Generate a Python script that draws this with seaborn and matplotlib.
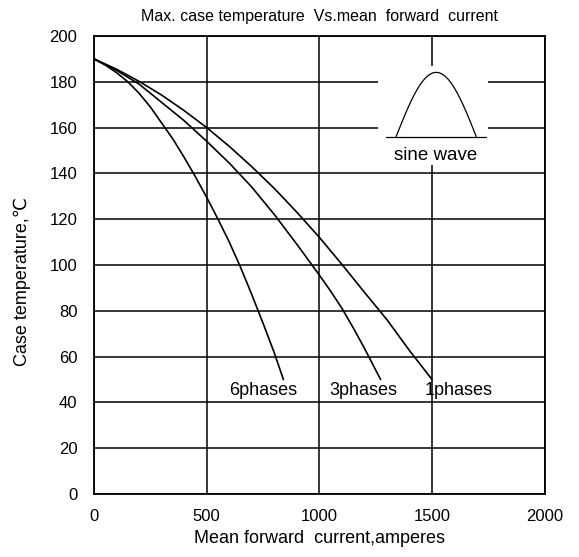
import numpy as np
import pandas as pd
import seaborn as sns
import matplotlib
matplotlib.use('Agg')
import matplotlib.pyplot as plt
from matplotlib.patches import Rectangle

# curves (current in A, case temperature in degC)
x_6ph = [0, 50, 100, 150, 200, 250, 300, 350, 400, 450, 500, 550, 600, 650, 700, 750, 800, 840]
y_6ph = [190, 187.3, 184, 180, 175, 169, 162, 155, 147, 138.5, 129.5, 120, 110, 99, 87, 74.5, 61.5, 50]
x_3ph = [0, 100, 200, 300, 400, 500, 600, 700, 800, 900, 1000, 1050, 1100, 1150, 1200, 1271]
y_3ph = [190, 185, 179, 171, 163, 154, 144.5, 134, 122, 109, 95.5, 88.5, 81, 72.5, 63.5, 50]
x_1ph = [0, 100, 200, 300, 400, 500, 600, 700, 800, 900, 1000, 1100, 1200, 1300, 1400, 1499]
y_1ph = [190, 185.5, 180.2, 174.2, 167.4, 160, 151.8, 142.9, 133.4, 123, 112, 100.2, 88, 76, 62.5, 50]

labels = ['6phases', '3phases', '1phases']
label_x = [749, 1195, 1617]
label_y = [45, 45, 45]

xticks = [0, 500, 1000, 1500, 2000]
yticks = [0, 20, 40, 60, 80, 100, 120, 140, 160, 180, 200]

df = pd.concat([
    pd.DataFrame({'current': x_6ph, 'temp': y_6ph, 'curve': '6phases'}),
    pd.DataFrame({'current': x_3ph, 'temp': y_3ph, 'curve': '3phases'}),
    pd.DataFrame({'current': x_1ph, 'temp': y_1ph, 'curve': '1phases'}),
])

sns.set_style('white')
plt.rcParams['font.family'] = ['Liberation Sans', 'DejaVu Sans']
plt.rcParams['text.color'] = 'black'
plt.rcParams['axes.labelcolor'] = 'black'

fig = plt.figure(figsize=(5.79, 5.57), dpi=100)
ax = fig.add_axes([0.1623, 0.1131, 0.779, 0.8223])

sns.lineplot(data=df, x='current', y='temp', hue='curve', units='curve',
             estimator=None, sort=False, palette=['black'] * 3,
             linewidth=1.2, legend=False, ax=ax, zorder=4)

ax.set_xlim(0, 2000)
ax.set_ylim(0, 200)
ax.set_xticks(xticks)
ax.set_yticks(yticks)
ax.grid(True, color='black', linewidth=1.1)
ax.set_axisbelow(True)
for s in ax.spines.values():
    s.set_color('black')
    s.set_linewidth(1.3)
ax.tick_params(length=0, labelsize=12, colors='black', labelcolor='black')
ax.tick_params(axis='y', pad=12)
ax.tick_params(axis='x', pad=11)

for lab, lx, ly in zip(labels, label_x, label_y):
    ax.text(lx, ly, lab, ha='center', va='center', fontsize=13, zorder=5)

# sine wave inset
ax.add_patch(Rectangle((1260, 143.7), 489, 43.3, facecolor='white',
                       edgecolor='none', zorder=2))
t = np.linspace(0, np.pi, 60)
ax.plot(1340 + 355 * t / np.pi, 156.1 + 28 * np.sin(t), color='black', lw=0.9, zorder=3)
ax.plot([1296, 1740], [156.1, 156.1], color='black', lw=0.9, zorder=3)
ax.text(1517, 148, 'sine wave', ha='center', va='center', fontsize=13.5, zorder=3)

ax.set_title('Max. case temperature  Vs.mean  forward  current', fontsize=11.5, pad=11)
ax.set_xlabel('Mean forward  current,amperes', fontsize=13, labelpad=4)
ax.set_ylabel('Case temperature,℃', fontsize=13)
ax.yaxis.set_label_coords(-0.14, 0.465)

fig.savefig('out.png', dpi=100)
